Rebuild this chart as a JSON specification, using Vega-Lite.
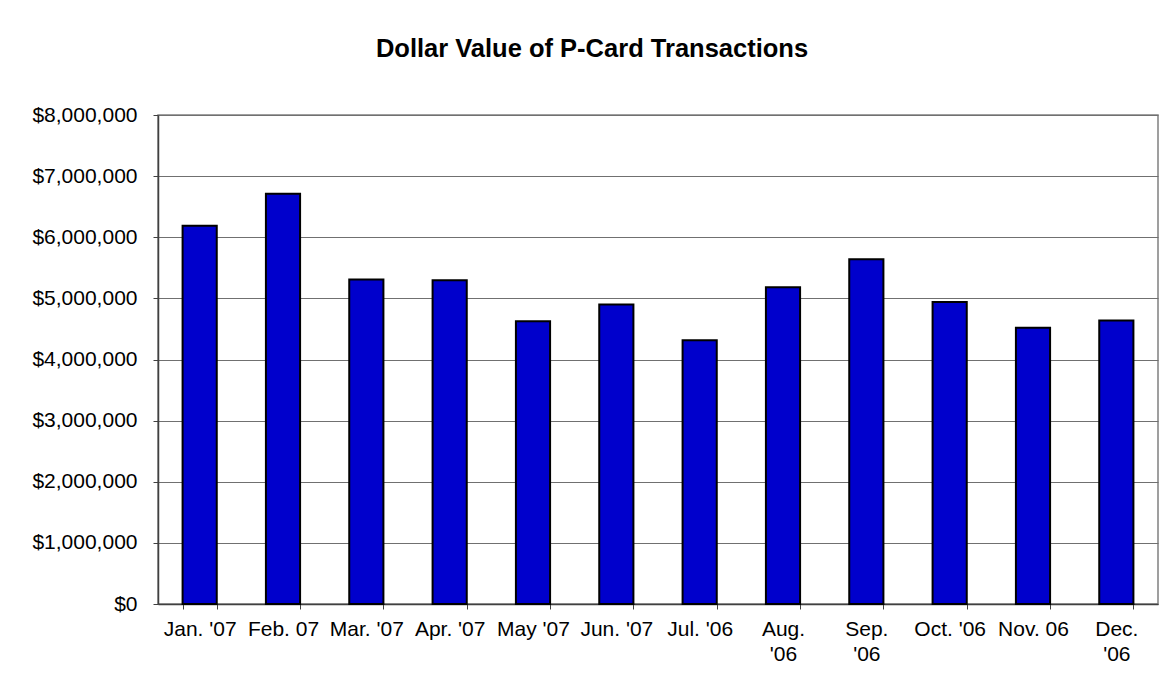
{
  "$schema": "https://vega.github.io/schema/vega-lite/v6.json",
  "width": 1000,
  "height": 489,
  "autosize": {"type": "none"},
  "padding": {"left": 158, "top": 115, "right": 7, "bottom": 82},
  "background": "white",
  "title": {
    "text": "Dollar Value of P-Card Transactions",
    "font": "Liberation Sans",
    "fontSize": 25.5,
    "fontWeight": "bold",
    "color": "#000000",
    "anchor": "middle",
    "frame": "group",
    "baseline": "alphabetic",
    "offset": 22,
    "dx": -66
  },
  "data": {
    "values": [
      {"month": "Jan. '07", "value": 6190000},
      {"month": "Feb. 07", "value": 6710000},
      {"month": "Mar. '07", "value": 5310000},
      {"month": "Apr. '07", "value": 5295000},
      {"month": "May '07", "value": 4625000},
      {"month": "Jun. '07", "value": 4900000},
      {"month": "Jul. '06", "value": 4315000},
      {"month": "Aug.|'06", "value": 5180000},
      {"month": "Sep.|'06", "value": 5640000},
      {"month": "Oct. '06", "value": 4940000},
      {"month": "Nov. 06", "value": 4520000},
      {"month": "Dec.|'06", "value": 4640000}
    ]
  },
  "mark": {"type": "bar", "color": "#0000CC", "stroke": "#000000", "strokeWidth": 2},
  "encoding": {
    "x": {
      "field": "month",
      "type": "nominal",
      "sort": null,
      "scale": {"paddingInner": 0.59, "paddingOuter": 0.295},
      "axis": {
        "title": null,
        "labelAngle": 0,
        "labelExpr": "split(datum.label, '|')",
        "labelFont": "Liberation Sans",
        "labelFontSize": 21,
        "labelColor": "#000000",
        "labelLineHeight": 25,
        "labelPadding": 9,
        "labelBaseline": "top",
        "tickBand": "extent",
        "tickSize": 5,
        "tickColor": "#404040",
        "domainColor": "#404040",
        "domainWidth": 1.5,
        "grid": false
      }
    },
    "y": {
      "field": "value",
      "type": "quantitative",
      "scale": {"domain": [0, 8000000], "nice": false},
      "axis": {
        "title": null,
        "values": [0, 1000000, 2000000, 3000000, 4000000, 5000000, 6000000, 7000000, 8000000],
        "format": "$,.0f",
        "labelFont": "Liberation Sans",
        "labelFontSize": 21,
        "labelColor": "#000000",
        "labelPadding": 16,
        "tickSize": 5,
        "tickColor": "#404040",
        "domainColor": "#404040",
        "domainWidth": 1.5,
        "grid": true,
        "gridColor": "#707070",
        "gridWidth": 1.2,
        "gridOpacity": 1
      }
    }
  },
  "config": {
    "view": {"stroke": "#808080", "strokeWidth": 1.5}
  }
}
